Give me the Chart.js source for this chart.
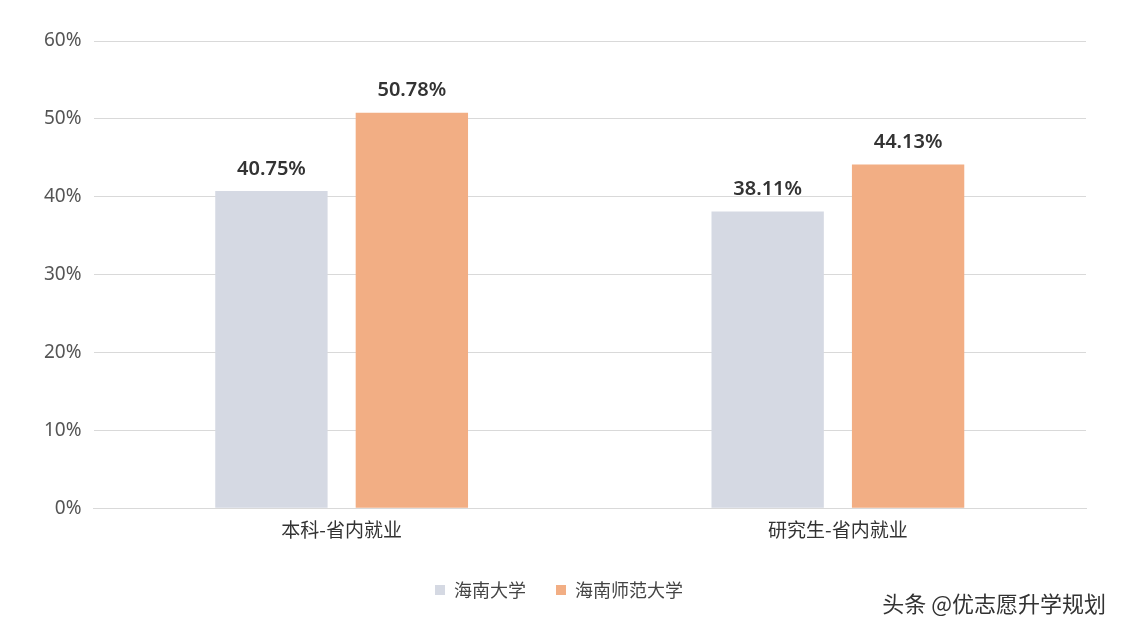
<!DOCTYPE html>
<html><head><meta charset="utf-8">
<script src="https://cdn.jsdelivr.net/npm/chart.js@4"></script>
<style>body{margin:0;background:#fff;font-family:"Noto Sans CJK SC",sans-serif}
#w{position:relative;width:1128px;height:640px}
#wm{position:absolute;right:22px;bottom:22px;font-size:22px;color:#333;font-family:"Noto Sans CJK SC"}</style>
</head><body><div id="w"><canvas id="c" width="1128" height="640"></canvas><div id="wm">头条 @优志愿升学规划</div></div>
<script>
const categories=["本科-省内就业","研究生-省内就业"];
const seriesNames=["海南大学","海南师范大学"];
const hainanU=[40.75,38.11];
const hainanNormal=[50.78,44.13];
const colors=["#d5d9e3","#f2ae84"];
const labelPlugin={id:'lbl',afterDatasetsDraw(ch){const ctx=ch.ctx;ctx.save();ctx.font='600 20px "Noto Sans", sans-serif';ctx.fillStyle='#333';ctx.textAlign='center';
ch.data.datasets.forEach((ds,i)=>{ch.getDatasetMeta(i).data.forEach((b,j)=>{ctx.fillText(ds.data[j].toFixed(2)+'%',b.x,b.y-22);});});ctx.restore();}};
new Chart(document.getElementById('c'),{type:'bar',
data:{labels:categories,datasets:[
{label:seriesNames[0],data:hainanU,backgroundColor:colors[0]},
{label:seriesNames[1],data:hainanNormal,backgroundColor:colors[1]}]},
options:{responsive:false,animation:false,
layout:{padding:{left:32,right:42,top:41,bottom:31}},
datasets:{bar:{categoryPercentage:0.566,barPercentage:0.8}},
scales:{y:{min:0,max:60,ticks:{stepSize:10,callback:v=>v+'%',color:'#555',font:{size:19,family:'"Noto Sans", sans-serif'},padding:12},grid:{color:'#d9d9d9',drawTicks:false},border:{display:false}},
x:{ticks:{color:'#333',font:{size:19,family:'"Noto Sans CJK SC"'},padding:10},grid:{display:false,drawTicks:false},border:{color:'#d9d9d9'}}},
plugins:{legend:{position:'bottom',labels:{boxWidth:10,boxHeight:10,color:'#444',font:{size:18,family:'"Noto Sans CJK SC"'},padding:30}},tooltip:{enabled:false}}},
plugins:[labelPlugin]});
</script></body></html>
